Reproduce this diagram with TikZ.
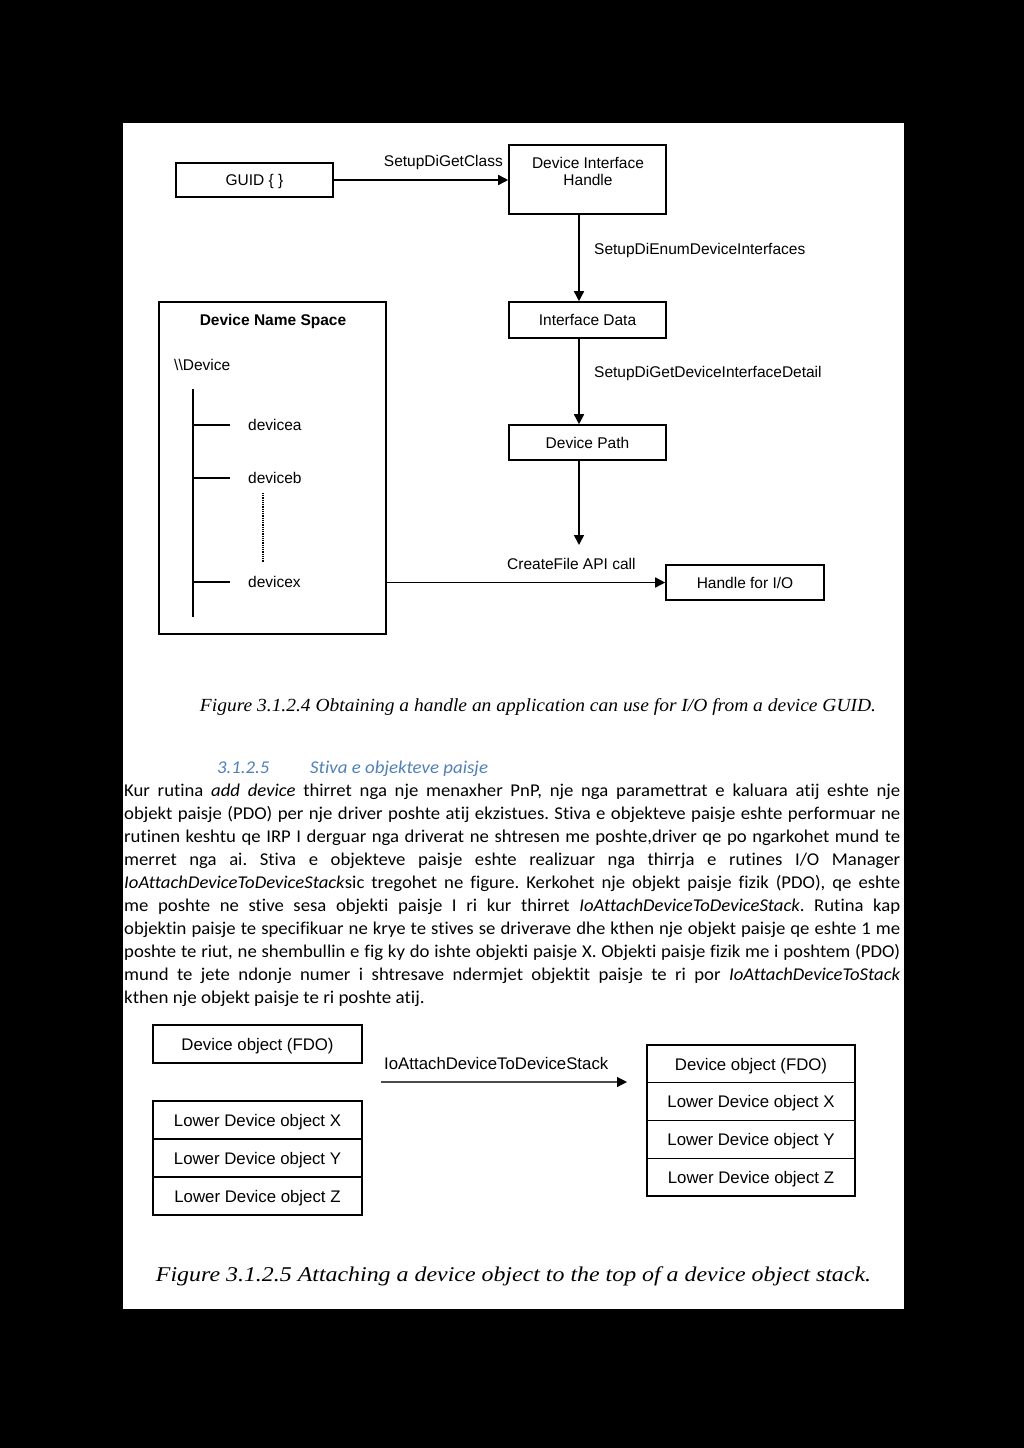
\documentclass[tikz,border=0pt]{standalone}
\usepackage{fontspec}
\usepackage{graphicx}
\usetikzlibrary{arrows.meta,calc}
\newfontfamily\diagf{Liberation Sans}
\newfontfamily\bodyf[Ligatures=NoCommon,WordSpace={0.5,1,1}]{Carlito}
\newfontfamily\bodyn[Ligatures=NoCommon]{Carlito}
\newfontfamily\capf{Liberation Serif}
\definecolor{headblue}{RGB}{79,129,189}
\newcommand{\jline}[1]{\scalebox{1.04}[1]{\makebox[746.2pt][s]{#1}}}
\frenchspacing
\begin{document}
\begin{tikzpicture}[x=1pt,y=-1pt,
  box/.style={draw=black, line width=1.6pt, inner sep=0pt, text height=11.5pt, text depth=0pt, font=\diagf\fontsize{15.5}{17}\selectfont},
  lbl/.style={inner sep=0pt, font=\diagf\fontsize{15.5}{17}\selectfont},
  arr/.style={line width=1.6pt, -{Triangle[length=10pt,width=10pt]}},
  bbox/.style={draw=black, line width=1.6pt, inner sep=0pt, text height=12.4pt, text depth=0pt, font=\diagf\fontsize{16.8}{19}\selectfont},
  cell/.style={draw=black, line width=1.1pt, inner sep=0pt, minimum width=209, minimum height=38, text height=12.4pt, text depth=0pt, font=\diagf\fontsize{16.8}{19}\selectfont},
  blbl/.style={inner sep=0pt, font=\diagf\fontsize{16.8}{19}\selectfont},
  bodyl/.style={anchor=base west, inner sep=0pt, font=\bodyf\fontsize{18}{23}\selectfont},
  capt/.style={anchor=base, inner sep=0pt},
]
\useasboundingbox (0,0) rectangle (1024,1448);
\fill[black] (0,0) rectangle (1024,1448);
\fill[white] (123,123) rectangle (904,1309);

% ---------- Figure 3.1.2.4 ----------
\node[box, minimum width=157, minimum height=34] (guid) at (254.5,180) {GUID \{ \}};
\node[box, minimum width=157, minimum height=69] (dih) at (587.5,179.5) {};
\node[lbl, align=center] (dihtxt) at (588,171.5) {Device Interface\\Handle};
\node[box, minimum width=157, minimum height=36] (idata) at (587.5,320) {Interface Data};
\node[box, minimum width=157, minimum height=35] (dpath) at (587.5,442.5) {Device Path};
\node[box, minimum width=158, minimum height=35] (hio) at (745,582.5) {Handle for I/O};
\node[box, minimum width=227, minimum height=332] (dns) at (272.5,468) {};
\node[lbl, font=\diagf\bfseries\fontsize{15.5}{17}\selectfont] (dnstitle) at (273,321) {Device Name Space};
\node[lbl, anchor=west] (devroot) at (174,365) {\textbackslash\textbackslash Device};

\coordinate (ttop) at (193,389);
\coordinate (tbot) at (193,617);
\node[lbl, anchor=west] (da) at (248,425) {devicea};
\node[lbl, anchor=west] (db) at (248,478) {deviceb};
\node[lbl, anchor=west] (dx) at (248,582) {devicex};
\draw[line width=1.6pt] (ttop) -- (tbot);
\draw[line width=1.6pt] (ttop |- da) -- ++(37,0);
\draw[line width=1.6pt] (ttop |- db) -- ++(37,0);
\draw[line width=1.6pt] (ttop |- dx) -- ++(37,0);
\coordinate (dots1) at (263,493);
\coordinate (dots2) at (263,562);
\draw[line width=1.2pt, dash pattern=on 1pt off 0.8pt] (dots1) -- (dots2);

\draw[arr] (guid.east) -- (dih.west |- guid.east);
\draw[arr] ([xshift=-8.5]dih.south) -- ([xshift=-8.5]idata.north);
\draw[arr] ([xshift=-8.5]idata.south) -- ([xshift=-8.5]dpath.north);
\coordinate (cfend) at (579,545);
\draw[arr] ([xshift=-8.5]dpath.south) -- (cfend);
\draw[arr] (dns.east |- hio.west) -- (hio.west);

\node[lbl, anchor=east] (l1) at (503,162) {SetupDiGetClass};
\node[lbl, anchor=west] (l2) at (594,250) {SetupDiEnumDeviceInterfaces};
\node[lbl, anchor=west] (l3) at (594,373) {SetupDiGetDeviceInterfaceDetail};
\node[lbl, anchor=west] (l4) at (507,564) {CreateFile API call};

\node[capt] (cap1) at (538,711) {\resizebox{676pt}{\height}{\capf\itshape\fontsize{18.5}{20}\selectfont Figure 3.1.2.4 Obtaining a handle an application can use for I/O from a device GUID.}};

% ---------- Section text ----------
\node[bodyl, text=headblue, font=\bodyn\itshape\fontsize{18}{23}\selectfont] (hnum) at (217,773) {\scalebox{1.04}[1]{3.1.2.5}};
\node[bodyl, text=headblue, font=\bodyn\itshape\fontsize{18}{23}\selectfont] (htitle) at (310,773) {\scalebox{1.05}[1]{Stiva e objekteve paisje}};

\node[bodyl] (p1) at (124,796) {\jline{Kur rutina \textit{add device} thirret nga nje menaxher PnP, nje nga paramettrat e kaluara atij eshte nje}};
\node[bodyl] (p2) at (124,819.1) {\jline{objekt paisje (PDO) per nje driver poshte atij ekzistues. Stiva e objekteve paisje eshte performuar ne}};
\node[bodyl] (p3) at (124,842.2) {\jline{rutinen keshtu qe IRP I derguar nga driverat ne shtresen me poshte,driver qe po ngarkohet mund te}};
\node[bodyl] (p4) at (124,865.3) {\jline{merret nga ai. Stiva e objekteve paisje eshte realizuar nga thirrja e rutines I/O Manager}};
\node[bodyl] (p5) at (124,888.4) {\jline{\textit{IoAttachDeviceToDeviceStack}sic tregohet ne figure. Kerkohet nje objekt paisje fizik (PDO), qe eshte}};
\node[bodyl] (p6) at (124,911.5) {\jline{me poshte ne stive sesa objekti paisje I ri kur thirret \textit{IoAttachDeviceToDeviceStack}. Rutina kap}};
\node[bodyl] (p7) at (124,934.6) {\jline{objektin paisje te specifikuar ne krye te stives se driverave dhe kthen nje objekt paisje qe eshte 1 me}};
\node[bodyl] (p8) at (124,957.7) {\jline{poshte te riut, ne shembullin e fig ky do ishte objekti paisje X. Objekti paisje fizik me i poshtem (PDO)}};
\node[bodyl] (p9) at (124,980.8) {\jline{mund te jete ndonje numer i shtresave ndermjet objektit paisje te ri por \textit{IoAttachDeviceToStack}}};
\node[bodyl, font=\bodyn\fontsize{18}{23}\selectfont] (p10) at (124,1003.9) {\scalebox{1.055}[1]{kthen nje objekt paisje te ri poshte atij.}};

% ---------- Figure 3.1.2.5 ----------
\node[bbox, minimum width=209, minimum height=38] (fdo1) at (257.5,1044) {Device object (FDO)};
\node[cell] (lx) at (257.5,1120) {Lower Device object X};
\node[cell] (ly) at (257.5,1158) {Lower Device object Y};
\node[cell] (lz) at (257.5,1196) {Lower Device object Z};
\draw[line width=1.6pt] (lx.north west) rectangle (lz.south east);

\node[cell, minimum width=208, minimum height=37.75] (rf) at (751,1063.9) {Device object (FDO)};
\node[cell, minimum width=208, minimum height=37.75] (rx) at (751,1101.6) {Lower Device object X};
\node[cell, minimum width=208, minimum height=37.75] (ry) at (751,1139.4) {Lower Device object Y};
\node[cell, minimum width=208, minimum height=37.75] (rz) at (751,1177.1) {Lower Device object Z};
\draw[line width=1.6pt] (rf.north west) rectangle (rz.south east);

\coordinate (as) at (381,1082);
\coordinate (ae) at (627,1082);
\draw[line width=1.2pt, draw=black!70, -{Triangle[length=10pt,width=10pt,black]}] (as) -- (ae);
\node[blbl, anchor=west] (l5) at (384,1063) {IoAttachDeviceToDeviceStack};

\node[capt] (cap2) at (513.5,1281) {\resizebox{715pt}{\height}{\capf\itshape\fontsize{21}{23}\selectfont Figure 3.1.2.5 Attaching a device object to the top of a device object stack.}};
\end{tikzpicture}
\end{document}
